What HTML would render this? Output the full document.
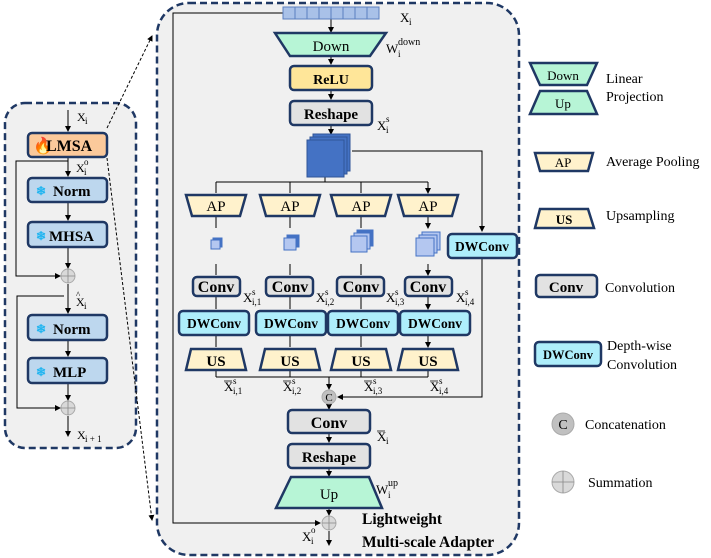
<!DOCTYPE html>
<html><head><meta charset="utf-8"><style>
body{margin:0;background:#fff}
svg{display:block}
text{font-family:"Liberation Serif",serif;fill:#000}
.b{font-weight:bold}
.s{font-size:9px}
</style></head><body>
<svg width="711" height="558" viewBox="0 0 711 558" xmlns="http://www.w3.org/2000/svg">
<defs>
<marker id="a" markerWidth="6" markerHeight="6" refX="5" refY="3" orient="auto" markerUnits="userSpaceOnUse"><path d="M0,0 L6,3 L0,6 z" fill="#000"/></marker>
</defs>
<rect x="5" y="103" width="131" height="345" rx="20" fill="#f0f0f0" stroke="#1f3864" stroke-width="2.5" stroke-dasharray="7,4"/>
<rect x="157" y="3" width="362" height="552" rx="32" fill="#f0f0f0" stroke="#1f3864" stroke-width="2.5" stroke-dasharray="7,4"/>
<line x1="107" y1="128" x2="152" y2="36" stroke="#000" stroke-dasharray="3,2" marker-end="url(#a)"/>
<line x1="107" y1="158" x2="152" y2="520" stroke="#000" stroke-dasharray="3,2" marker-end="url(#a)"/>

<!-- LEFT -->
<g stroke="#000" stroke-width="1" fill="none">
<line x1="68" y1="110" x2="68" y2="131" marker-end="url(#a)"/>
<line x1="68" y1="158" x2="68" y2="176" marker-end="url(#a)"/>
<line x1="68" y1="203" x2="68" y2="220" marker-end="url(#a)"/>
<line x1="68" y1="248" x2="68" y2="268" marker-end="url(#a)"/>
<polyline points="68,161 16,161 16,276 60,276" marker-end="url(#a)"/>
<line x1="68" y1="284" x2="68" y2="313" marker-end="url(#a)"/>
<line x1="68" y1="341" x2="68" y2="356" marker-end="url(#a)"/>
<line x1="68" y1="384" x2="68" y2="400" marker-end="url(#a)"/>
<polyline points="64,296 17,296 17,408 60,408" marker-end="url(#a)"/>
<line x1="68" y1="416" x2="68" y2="436" marker-end="url(#a)"/>
</g>
<rect x="28" y="133" width="79" height="24" rx="4" fill="#fbc99b" stroke="#1f3864" stroke-width="2.5"/>
<text x="33" y="151" font-size="16" style="fill:#e22">🔥</text>
<text x="46" y="151" font-size="16" class="b">LMSA</text>
<g font-size="15" class="b">
<rect x="28" y="178" width="79" height="24" rx="4" fill="#bdd7ee" stroke="#1f3864" stroke-width="2.5"/>
<text x="36" y="195" font-size="12" style="fill:#22b5f0">❄</text><text x="53" y="196">Norm</text>
<rect x="28" y="222" width="79" height="25" rx="4" fill="#bdd7ee" stroke="#1f3864" stroke-width="2.5"/>
<text x="36" y="240" font-size="12" style="fill:#22b5f0">❄</text><text x="49" y="241">MHSA</text>
<rect x="28" y="315" width="79" height="25" rx="4" fill="#bdd7ee" stroke="#1f3864" stroke-width="2.5"/>
<text x="36" y="333" font-size="12" style="fill:#22b5f0">❄</text><text x="53" y="334">Norm</text>
<rect x="28" y="358" width="79" height="25" rx="4" fill="#bdd7ee" stroke="#1f3864" stroke-width="2.5"/>
<text x="36" y="376" font-size="12" style="fill:#22b5f0">❄</text><text x="53" y="377">MLP</text>
</g>
<g fill="#d9d9d9" stroke="#aaa"><circle cx="68" cy="276" r="7"/><circle cx="68" cy="408" r="7"/></g>
<g stroke="#888" stroke-width="0.8"><path d="M61,276h14M68,269v14M61,408h14M68,401v14"/></g>
<g font-size="12">
<text x="77" y="121">X</text><text x="85" y="124" class="s">i</text>
<text x="76" y="172">X</text><text x="84" y="175" class="s">i</text><text x="84" y="165" class="s">o</text>
<text x="76" y="306">X</text><text x="76" y="298" font-size="9">^</text><text x="84" y="309" class="s">i</text>
<text x="77" y="439">X</text><text x="85" y="442" class="s">i + 1</text>
</g>

<!-- MAIN -->
<g stroke="#000" stroke-width="1" fill="none">
<polyline points="283,13 173,13 173,523 320,523" marker-end="url(#a)"/>
<line x1="331" y1="19" x2="331" y2="32" marker-end="url(#a)"/>
<line x1="331" y1="57" x2="331" y2="64" marker-end="url(#a)"/>
<line x1="331" y1="91" x2="331" y2="99" marker-end="url(#a)"/>
<line x1="331" y1="126" x2="331" y2="134" marker-end="url(#a)"/>
<polyline points="352,151 482,151 482,231" marker-end="url(#a)"/>
<line x1="325" y1="176" x2="325" y2="182"/>
<line x1="216" y1="182" x2="428" y2="182"/>
<polyline points="482,259 482,397 338,397" marker-end="url(#a)"/>
<line x1="216" y1="370" x2="216" y2="377"/><line x1="290" y1="370" x2="290" y2="377"/><line x1="361" y1="370" x2="361" y2="377"/><line x1="428" y1="370" x2="428" y2="377"/>
<line x1="216" y1="377" x2="428" y2="377"/>
<line x1="329" y1="377" x2="329" y2="389" marker-end="url(#a)"/>
<line x1="329" y1="404" x2="329" y2="409" marker-end="url(#a)"/>
<line x1="329" y1="434" x2="329" y2="442" marker-end="url(#a)"/>
<line x1="329" y1="468" x2="329" y2="476" marker-end="url(#a)"/>
<line x1="329" y1="508" x2="329" y2="515" marker-end="url(#a)"/>
<line x1="329" y1="531" x2="329" y2="545" marker-end="url(#a)"/>
</g>
<g stroke="#000" fill="none">
<path d="M216,182v11M290,182v11M361,182v11M428,182v11" marker-end="url(#a)"/>
<path d="M216,217v11M290,217v11M361,217v11M428,217v11" marker-end="url(#a)"/>
<path d="M216,264v11M290,264v11M361,264v11M428,264v11" marker-end="url(#a)"/>
<path d="M216,297v12M290,297v12M361,297v12M428,297v12" marker-end="url(#a)"/>
<path d="M216,336v11M290,336v11M361,336v11M428,336v11" marker-end="url(#a)"/>
</g>
<rect x="283" y="7" width="96" height="12" fill="#a9c1e8" stroke="#5b7fc0"/>
<g stroke="#5b7fc0"><path d="M295,7v12M307,7v12M319,7v12M331,7v12M343,7v12M355,7v12M367,7v12"/></g>
<polygon points="275,33 386,33 370,56 290,56" fill="#b7f5d6" stroke="#1f3864" stroke-width="2.5"/>
<text x="331" y="51" font-size="15" text-anchor="middle">Down</text>
<rect x="290" y="66" width="82" height="24" rx="4" fill="#ffe699" stroke="#1f3864" stroke-width="2.5"/>
<text x="331" y="84" font-size="14" class="b" text-anchor="middle">ReLU</text>
<rect x="290" y="101" width="82" height="24" rx="4" fill="#e2e2e2" stroke="#1f3864" stroke-width="2.5"/>
<text x="331" y="119" font-size="15" class="b" text-anchor="middle">Reshape</text>
<g fill="#4472c4" stroke="#2f5597">
<rect x="313" y="134" width="37" height="37"/><rect x="310" y="137" width="37" height="37"/><rect x="307" y="140" width="37" height="37"/>
</g>
<g fill="#fff2cc" stroke="#1f3864" stroke-width="2.5">
<polygon points="186,195 246,195 240,216 192,216"/><polygon points="260,195 320,195 314,216 266,216"/>
<polygon points="331,195 391,195 385,216 337,216"/><polygon points="398,195 458,195 452,216 404,216"/>
</g>
<g font-size="15" text-anchor="middle"><text x="216" y="211">AP</text><text x="290" y="211">AP</text><text x="361" y="211">AP</text><text x="428" y="211">AP</text></g>
<g fill="#b4c7f0" stroke="#4472c4">
<rect x="213" y="238" width="9" height="9" fill="#4472c4"/><rect x="211" y="240" width="9" height="9"/>
<rect x="287" y="235" width="12" height="12" fill="#4472c4"/><rect x="284" y="238" width="12" height="12"/>
<rect x="357" y="230" width="16" height="16" fill="#4472c4"/><rect x="354" y="233" width="16" height="16"/><rect x="351" y="236" width="16" height="16"/>
<rect x="422" y="232" width="18" height="18"/><rect x="419" y="235" width="18" height="18"/><rect x="416" y="238" width="18" height="18"/>
</g>
<g fill="#e2e2e2" stroke="#1f3864" stroke-width="2.5">
<rect x="193" y="277" width="47" height="19" rx="4"/><rect x="266" y="277" width="47" height="19" rx="4"/>
<rect x="337" y="277" width="47" height="19" rx="4"/><rect x="405" y="277" width="47" height="19" rx="4"/>
</g>
<g font-size="16" class="b" text-anchor="middle"><text x="216" y="292">Conv</text><text x="290" y="292">Conv</text><text x="361" y="292">Conv</text><text x="428" y="292">Conv</text></g>
<g fill="#aeeefb" stroke="#1f3864" stroke-width="2.5">
<rect x="179" y="311" width="70" height="24" rx="4"/><rect x="256" y="311" width="70" height="24" rx="4"/>
<rect x="328" y="311" width="70" height="24" rx="4"/><rect x="400" y="311" width="70" height="24" rx="4"/>
<rect x="448" y="234" width="69" height="24" rx="4"/>
</g>
<g font-size="13.5" class="b" text-anchor="middle"><text x="214" y="328">DWConv</text><text x="291" y="328">DWConv</text><text x="363" y="328">DWConv</text><text x="435" y="328">DWConv</text><text x="482" y="251">DWConv</text></g>
<g fill="#fff2cc" stroke="#1f3864" stroke-width="2.5">
<polygon points="191,349 241,349 246,370 186,370"/><polygon points="265,349 315,349 320,370 260,370"/>
<polygon points="336,349 386,349 391,370 331,370"/><polygon points="403,349 453,349 458,370 398,370"/>
</g>
<g font-size="15" class="b" text-anchor="middle"><text x="216" y="366">US</text><text x="290" y="366">US</text><text x="361" y="366">US</text><text x="428" y="366">US</text></g>
<circle cx="329" cy="397" r="7" fill="#c0c0c0" stroke="#aaa"/>
<text x="329" y="401" font-size="11" text-anchor="middle">C</text>
<rect x="288" y="410" width="82" height="23" rx="4" fill="#e2e2e2" stroke="#1f3864" stroke-width="2.5"/>
<text x="329" y="428" font-size="16" class="b" text-anchor="middle">Conv</text>
<rect x="288" y="444" width="82" height="24" rx="4" fill="#e2e2e2" stroke="#1f3864" stroke-width="2.5"/>
<text x="329" y="462" font-size="15" class="b" text-anchor="middle">Reshape</text>
<polygon points="291,477 369,477 382,508 276,508" fill="#b7f5d6" stroke="#1f3864" stroke-width="2.5"/>
<text x="329" y="499" font-size="15" text-anchor="middle">Up</text>
<circle cx="329" cy="523" r="7" fill="#d9d9d9" stroke="#aaa"/>
<path d="M322,523h14M329,516v14" stroke="#888" stroke-width="0.8"/>
<g font-size="13">
<text x="400" y="22">X</text><text x="409" y="25" class="s">i</text>
<text x="386" y="53">W</text><text x="398" y="57" class="s">i</text><text x="398" y="45" font-size="10">down</text>
<text x="377" y="130">X</text><text x="386" y="133" class="s">i</text><text x="386" y="122" class="s">s</text>
<text x="243" y="302">X</text><text x="252" y="305" class="s">i,1</text><text x="252" y="295" class="s">s</text>
<text x="316" y="302">X</text><text x="325" y="305" class="s">i,2</text><text x="325" y="295" class="s">s</text>
<text x="386" y="302">X</text><text x="395" y="305" class="s">i,3</text><text x="395" y="295" class="s">s</text>
<text x="456" y="302">X</text><text x="465" y="305" class="s">i,4</text><text x="465" y="295" class="s">s</text>
<text x="224" y="391">X</text><text x="233" y="394" class="s">i,1</text><text x="233" y="384" class="s">s</text>
<text x="283" y="391">X</text><text x="292" y="394" class="s">i,2</text><text x="292" y="384" class="s">s</text>
<text x="364" y="391">X</text><text x="373" y="394" class="s">i,3</text><text x="373" y="384" class="s">s</text>
<text x="430" y="391">X</text><text x="439" y="394" class="s">i,4</text><text x="439" y="384" class="s">s</text>
<text x="377" y="441">X</text><text x="386" y="444" class="s">i</text>
<text x="376" y="494">W</text><text x="388" y="498" class="s">i</text><text x="388" y="486" font-size="10">up</text>
<text x="302" y="541">X</text><text x="311" y="544" class="s">i</text><text x="311" y="533" class="s">o</text>
</g>
<g stroke="#000" stroke-width="0.8">
<path d="M224,381h8M283,381h8M364,381h8M430,381h8M377,431h8"/>
</g>
<text x="362" y="524" font-size="15.5" class="b">Lightweight</text>
<text x="362" y="547" font-size="15.5" class="b">Multi-scale Adapter</text>

<!-- LEGEND -->
<polygon points="530,63 597,63 587,85 540,85" fill="#b7f5d6" stroke="#1f3864" stroke-width="2.5"/>
<text x="563" y="80" font-size="13" text-anchor="middle">Down</text>
<polygon points="540,91 587,91 597,114 530,114" fill="#b7f5d6" stroke="#1f3864" stroke-width="2.5"/>
<text x="563" y="108" font-size="13" text-anchor="middle">Up</text>
<polygon points="535,153 593,153 588,171 540,171" fill="#fff2cc" stroke="#1f3864" stroke-width="2.5"/>
<text x="563" y="167" font-size="13" text-anchor="middle">AP</text>
<polygon points="540,209 588,209 594,228 535,228" fill="#fff2cc" stroke="#1f3864" stroke-width="2.5"/>
<text x="564" y="224" font-size="13" class="b" text-anchor="middle">US</text>
<rect x="536" y="275" width="61" height="22" rx="4" fill="#e2e2e2" stroke="#1f3864" stroke-width="2.5"/>
<text x="566" y="292" font-size="15" class="b" text-anchor="middle">Conv</text>
<rect x="535" y="342" width="66" height="24" rx="4" fill="#aeeefb" stroke="#1f3864" stroke-width="2.5"/>
<text x="568" y="359" font-size="12.5" class="b" text-anchor="middle">DWConv</text>
<circle cx="563" cy="424" r="11" fill="#c0c0c0" stroke="#aaa"/>
<text x="563" y="429" font-size="14" text-anchor="middle">C</text>
<circle cx="563" cy="482" r="11" fill="#d9d9d9" stroke="#aaa"/>
<path d="M552,482h22M563,471v22" stroke="#888" stroke-width="0.8"/>
<g font-size="14">
<text x="606" y="83">Linear</text><text x="606" y="101">Projection</text>
<text x="606" y="166">Average Pooling</text>
<text x="606" y="220">Upsampling</text>
<text x="605" y="292">Convolution</text>
<text x="607" y="350">Depth-wise</text><text x="607" y="369">Convolution</text>
<text x="585" y="429">Concatenation</text>
<text x="588" y="487">Summation</text>
</g>
</svg>
</body></html>
